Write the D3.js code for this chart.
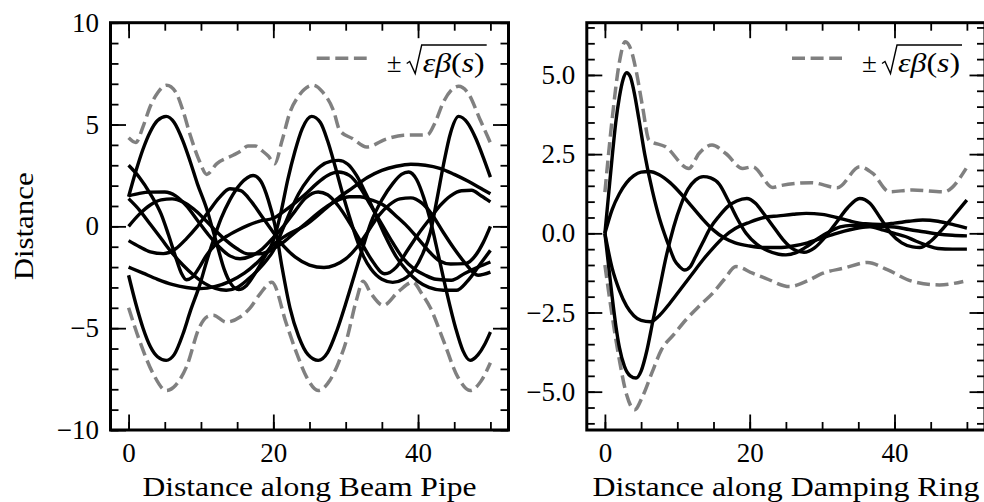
<!DOCTYPE html>
<html>
<head>
<meta charset="utf-8">
<script src="https://cdn.jsdelivr.net/npm/d3@7"></script>
<style>
  body { margin: 0; background: #fff; }
  svg { display: block; font-family: "Liberation Serif", "Times New Roman", serif; }
</style>
</head>
<body>
<script>
// ============================================
// DATA
// ============================================

// tick labels
const xMajor = [0, 20, 40];
const xMinor = [0, 5, 10, 15, 20, 25, 30, 35, 40, 45, 50];
const beamYMajor = [-10, -5, 0, 5, 10];
const ringYMajor = [-5, -2.5, 0, 2.5, 5];

// --- Beam pipe: envelope (upper / lower dashed) ---
const beamUpper = [[0,4.35],[1,4.12],[2,4.9],[3,5.9],[4,6.55],[5.25,6.93],[6.5,6.6],[7.5,5.7],[8.5,4.5],[9.8,3.2],[10.8,2.55],[12.2,3.08],[14.5,3.5],[15.5,3.7],[16.5,3.95],[17.5,3.95],[18.5,3.7],[19.3,3.45],[20.2,3.08],[21.2,4.2],[22.3,5.6],[23.5,6.4],[25.5,6.93],[26.8,6.6],[28.3,5.7],[29.2,4.7],[31,4.3],[32.9,3.9],[35.7,4.3],[38,4.47],[41.3,4.5],[42.3,5.05],[43.5,6.1],[45.6,6.88],[47,6.5],[48.5,5.3],[50,4.1]];
const beamLower = [[0,-4.0],[1.5,-5.6],[3.4,-7.24],[5.2,-8.06],[6.5,-7.8],[8,-6.9],[9.8,-4.95],[10.8,-4.45],[11.7,-4.37],[13.5,-4.7],[15.4,-4.45],[16.8,-4.0],[18.2,-3.3],[19.8,-2.74],[21.8,-4.78],[23.3,-6.3],[24.6,-7.4],[26.2,-8.06],[27.8,-7.57],[29,-6.7],[30.1,-5.6],[31.5,-3.6],[32.4,-2.7],[33.5,-3.3],[35.2,-3.88],[37.3,-3.2],[39.3,-2.74],[40.5,-3.3],[41.7,-4.0],[43.5,-5.6],[45.5,-7.4],[47.2,-8.06],[48.7,-7.6],[50,-6.7]];

// --- Beam pipe: particle trajectories ---
const beamP = [[0,1.45],[1,2.7],[2,3.8],[3,4.65],[4,5.2],[5.2,5.4],[6.3,5.1],[7.5,4.2],[8.5,3.2],[9.5,2.1],[10.8,0.85],[11.5,0],[12.3,-1],[13.2,-2.1],[14.2,-2.85],[15.2,-3.1],[16.3,-2.9],[17.5,-2.3],[18.8,-1.5],[20,-0.7],[21,0.6],[22,2.3],[23,3.7],[24,4.8],[25.3,5.4],[26.5,5.1],[27.5,4.2],[28.5,3],[29.5,1.7],[30.5,0.5],[31.5,-0.6],[32.5,-1.5],[33.5,-2.1],[35,-2.6],[36.5,-2.75],[38,-2.6],[39.5,-2.1],[40.7,-1.3],[41.7,-0.3],[42.6,1.3],[43.5,3],[44.5,4.6],[45.6,5.4],[46.8,5.1],[48,4.3],[49,3.4],[50,2.42]];
const beamN = [[0,-2.4],[1,-3.8],[2,-5],[3,-5.9],[4,-6.4],[5.2,-6.58],[6.3,-6.3],[7.5,-5.3],[8.5,-4.2],[9.9,-2.8],[10.8,-1.7],[11.7,-0.7],[12.8,0.4],[14,1.3],[15.5,2.1],[17.2,2.5],[18.3,2.2],[19.3,1.3],[20.2,0.1],[21.2,-2],[22.3,-4],[23.5,-5.4],[24.8,-6.3],[26.2,-6.58],[27.5,-6.2],[28.8,-5.1],[30,-3.8],[31.2,-2.4],[32.4,-1],[33.5,0.2],[35,1.3],[36.5,2.1],[37.7,2.55],[38.7,2.67],[39.8,2.3],[40.8,1.4],[41.7,0.3],[42.8,-1.4],[44,-3.3],[45.2,-5],[46.2,-6.1],[47.2,-6.58],[48.3,-6.3],[49.2,-5.8],[50,-5.19]];
const beamA = [[0,3],[1.5,2.4],[3,1.6],[4.5,0.6],[5.5,-0.4],[6.5,-1.5],[7.3,-2.3],[8,-2.62],[8.8,-2.5],[9.8,-2],[10.8,-1.4],[12,-0.9],[13.5,-0.5],[15,-0.2],[16.5,0.05],[18,0.25],[20,0.4],[21.5,0.75],[23,1.15],[24.5,1.6],[26,2.1],[27.5,2.5],[29,2.67],[30.5,2.5],[32,1.9],[33.5,1],[35,0.1],[36.5,-0.8],[38,-1.6],[39.5,-2.1],[41,-2.4],[42.5,-2.6],[44.6,-2.65],[46.5,-2.3],[48.3,-2],[50,-1.75]];
const beamG = [[0,1.36],[1.5,0.8],[3,0.1],[4.5,-0.6],[6,-1.3],[7.5,-1.9],[9,-2.4],[10.5,-2.8],[12,-3.05],[13.5,-3.14],[15,-3],[16.5,-2.6],[18,-2.1],[19.2,-1.6],[20,-1.2],[21,-0.4],[22.3,0.7],[23.5,1.6],[25,2.4],[26.5,2.95],[28,3.2],[29,3.24],[30.3,3.05],[31.5,2.5],[32.8,1.6],[34,0.7],[35.5,-0.5],[37,-1.5],[38.5,-2.2],[40,-2.7],[41.5,-3],[43.5,-3.14],[45.3,-3.14],[46.8,-2.7],[48.5,-1.9],[50,-1.18]];
const beamQ = [[0,1.5],[1.5,1.62],[3,1.68],[5,1.69],[6.5,1.5],[8,1],[9.5,0.3],[11,-0.4],[12.5,-1],[14,-1.45],[15.4,-1.59],[17,-1.45],[18.5,-1.1],[20,-0.55],[21.5,0.05],[23,0.75],[24.5,1.4],[26.2,1.69],[27.5,1.55],[29,1],[30.5,0.2],[32,-0.7],[33.5,-1.6],[35.4,-2.33],[37,-2],[38.5,-1.2],[40,-0.4],[41.7,0.4],[43,1],[44.5,1.5],[46,1.75],[47.4,1.77],[48.7,1.5],[50,1.2]];
const beamD = [[0,0],[1.5,0.6],[3,1.05],[4.5,1.3],[6,1.35],[7.5,1.2],[9,0.85],[10.5,0.35],[12,-0.2],[13.5,-0.7],[15,-1.1],[16.5,-1.35],[18,-1.35],[19.2,-1.25],[20,-1.1],[21.5,-0.75],[23,-0.3],[24.5,0.15],[26,0.6],[27.5,1],[29,1.3],[30.5,1.45],[32,1.45],[33.5,1.3],[35.4,1],[37,0.5],[38.5,0],[40,-0.6],[41.7,-1.3],[43,-1.7],[44.5,-1.85],[46.5,-1.83],[48,-1.4],[49,-0.8],[50,0]];
const beamE = [[0,-0.7],[1.5,-1],[3,-1.25],[4.8,-1.34],[6.5,-1.1],[8,-0.6],[9.5,0],[11,0.7],[12.5,1.4],[14,1.85],[15.5,1.75],[17,1.2],[18.5,0.45],[20,-0.3],[21.5,-1],[23,-1.5],[25,-1.9],[27,-2.02],[28.5,-1.9],[30,-1.6],[31.5,-1.05],[33,-0.3],[34.5,0.5],[36,1.05],[37.5,1.35],[39,1.4],[40.5,1.15],[42,0.55],[43.5,-0.3],[45,-1.1],[46.5,-1.8],[48.3,-2.4],[50,-2.25]];
const beamF = [[0,-2],[2,-2.3],[4,-2.6],[6,-2.85],[8,-3],[9.9,-3.06],[12,-2.95],[14,-2.7],[16,-2.3],[18,-1.7],[20,-0.9],[22,-0.4],[24.4,0.05],[27,0.8],[29,1.4],[31,1.9],[33,2.4],[35,2.75],[37,2.95],[39,3.05],[41,3],[43,2.85],[45,2.55],[47,2.2],[49,1.8],[50,1.6]];

// --- Damping ring: envelope ---
const ringUpper = [[0,1.3],[1,3.6],[2,5.4],[2.8,6.05],[3.6,5.8],[4.3,5.15],[5.2,4],[6.1,2.94],[8.4,2.73],[11.6,2.05],[13,2.52],[14.8,2.79],[16.7,2.52],[19,2.05],[20.4,2.1],[23.2,1.45],[24.1,1.5],[28.5,1.6],[32.1,1.44],[35.2,2.1],[37,1.89],[39.3,1.31],[42.5,1.37],[46.8,1.31],[49.9,2.05]];
const ringLower = [[0,-1],[1,-2.6],[2,-4],[3,-5.1],[4.1,-5.57],[5.2,-5.15],[6.5,-4.4],[7.8,-3.68],[9.5,-3.2],[11.2,-2.73],[13,-2.3],[14.9,-1.89],[16.5,-1.45],[18.1,-1.05],[20.4,-1.26],[22.2,-1.42],[25.5,-1.68],[28,-1.5],[30.1,-1.26],[33,-1.1],[36.3,-0.92],[39,-1.15],[42.5,-1.52],[46.2,-1.63],[49.5,-1.52]];

// --- Damping ring: particle trajectories ---
const ringR1 = [[0,0],[0.5,1.2],[1,2.4],[1.5,3.5],[2,4.3],[2.5,4.85],[3,5.07],[3.5,4.95],[4,4.5],[4.7,3.6],[5.5,2.5],[6.6,1.3],[7.5,0.5],[8.2,0],[9,-0.5],[9.6,-0.84],[10.3,-1.05],[11,-1.16],[11.8,-1.05],[12.5,-0.75],[13.5,-0.3],[14.5,0.15],[15.8,0.55],[17,0.85],[18.2,1.02],[19.6,1.1],[20.8,0.95],[22,0.6],[23.3,0.2],[24.6,-0.2],[26,-0.5],[27.5,-0.6],[29,-0.45],[30.5,-0.1],[32,0.35],[33.5,0.8],[35.2,1.1],[36.6,0.95],[38,0.5],[39.5,0.0],[41,-0.3],[42.5,-0.43],[43.5,-0.45],[45,-0.25],[46.5,0.1],[48,0.5],[50,1.05]];
const ringR2 = [[0,0],[0.5,-1],[1,-2],[1.5,-2.9],[2,-3.6],[2.7,-4.2],[3.5,-4.5],[4.3,-4.57],[5,-4.35],[5.8,-3.7],[6.6,-2.8],[7.5,-1.8],[8.5,-0.7],[9.5,0.2],[10.5,0.9],[11.5,1.4],[12.5,1.68],[13.6,1.79],[14.6,1.75],[15.8,1.55],[17,1.05],[18.2,0.5],[19.5,0],[21,-0.35],[22.5,-0.55],[24,-0.66],[25,-0.68],[26.5,-0.6],[28,-0.4],[29.5,-0.15],[31,0.05],[32.5,0.2],[34,0.25],[35.5,0.25],[37,0.2],[38.5,0.1],[40,0],[41.5,-0.1],[43,-0.25],[44.5,-0.38],[46,-0.48],[48,-0.5],[50,-0.5]];
const ringR3 = [[0,0],[1,0.75],[2,1.25],[3,1.6],[4,1.82],[5,1.93],[6.1,1.95],[7.5,1.85],[9,1.6],[10.5,1.25],[12,0.85],[13.5,0.45],[15,0.1],[16.5,-0.15],[18,-0.3],[20,-0.4],[22,-0.45],[24,-0.45],[26,-0.4],[28,-0.3],[30,-0.15],[32,0],[34,0.12],[36,0.2],[38,0.22],[40,0.2],[42,0.12],[44,0.05],[46,-0.02],[48,-0.06],[50,-0.08]];
const ringR4 = [[0,0],[1,-1.1],[2,-1.8],[3,-2.3],[4,-2.6],[5,-2.75],[6.3,-2.79],[7.5,-2.6],[9,-2.2],[10.5,-1.75],[12,-1.3],[13.5,-0.85],[15,-0.45],[16.5,-0.1],[18,0.15],[20,0.35],[22,0.5],[24,0.55],[26,0.6],[27.8,0.63],[30,0.6],[32,0.5],[34,0.38],[36,0.3],[38,0.28],[40,0.32],[42,0.38],[43.9,0.42],[46,0.38],[48,0.28],[50,0.16]];

// ============================================
// CHART CODE
// ============================================

const W = 984, H = 502;
const plotTop = 22.7, plotBottom = 430;
const fontSize = 27;

const svg = d3.select("body").append("svg")
  .attr("width", W)
  .attr("height", H);

svg.append("rect").attr("width", W).attr("height", H).attr("fill", "#fff");

const minus = s => String(s).replace("-", "\u2212");

function drawPanel(p) {
  const x = d3.scaleLinear().domain([-2.5, 52.5]).range([p.left, p.right]);
  const y = d3.scaleLinear().domain(p.yDomain).range([plotBottom, plotTop]);
  const g = svg.append("g");

  const line = d3.line()
    .x(d => x(d[0]))
    .y(d => y(d[1]))
    .curve(d3.curveMonotoneX);

  // envelope
  [p.upper, p.lower].forEach(d => {
    g.append("path")
      .attr("d", line(d))
      .attr("fill", "none")
      .attr("stroke", "#808080")
      .attr("stroke-width", 3.5)
      .attr("stroke-dasharray", "13,5.6");
  });

  // trajectories
  p.curves.forEach(d => {
    g.append("path")
      .attr("d", line(d))
      .attr("fill", "none")
      .attr("stroke", "#000")
      .attr("stroke-width", 3.4)
      .attr("stroke-linejoin", "round");
  });

  // ticks (inward, all four sides)
  const tickStyle = sel => {
    sel.select(".domain").remove();
    sel.selectAll(".tick line").attr("stroke", "#000").attr("stroke-width", 1.8);
    sel.selectAll(".tick text")
      .attr("fill", "#000")
      .attr("font-size", fontSize)
      .attr("font-family", "Liberation Serif, serif");
  };

  g.append("g").attr("transform", `translate(0,${plotBottom})`)
    .call(d3.axisBottom(x).tickValues(xMajor).tickSizeInner(-15.5).tickSizeOuter(0).tickPadding(12.5))
    .call(tickStyle);
  g.append("g").attr("transform", `translate(0,${plotBottom})`)
    .call(d3.axisBottom(x).tickValues(xMinor).tickSizeInner(-8).tickSizeOuter(0).tickFormat(""))
    .call(tickStyle);
  g.append("g").attr("transform", `translate(0,${plotTop})`)
    .call(d3.axisTop(x).tickValues(xMajor).tickSizeInner(-15.5).tickSizeOuter(0).tickFormat(""))
    .call(tickStyle);
  g.append("g").attr("transform", `translate(0,${plotTop})`)
    .call(d3.axisTop(x).tickValues(xMinor).tickSizeInner(-8).tickSizeOuter(0).tickFormat(""))
    .call(tickStyle);

  g.append("g").attr("transform", `translate(${p.left},0)`)
    .call(d3.axisLeft(y).tickValues(p.yMajor).tickSizeInner(-15.5).tickSizeOuter(0).tickPadding(11.5).tickFormat(d => minus(p.fmt(d))))
    .call(tickStyle);
  g.append("g").attr("transform", `translate(${p.left},0)`)
    .call(d3.axisLeft(y).tickValues(p.yMinor).tickSizeInner(-8).tickSizeOuter(0).tickFormat(""))
    .call(tickStyle);
  g.append("g").attr("transform", `translate(${p.right},0)`)
    .call(d3.axisRight(y).tickValues(p.yMajor).tickSizeInner(-15.5).tickSizeOuter(0).tickFormat(""))
    .call(tickStyle);
  g.append("g").attr("transform", `translate(${p.right},0)`)
    .call(d3.axisRight(y).tickValues(p.yMinor).tickSizeInner(-8).tickSizeOuter(0).tickFormat(""))
    .call(tickStyle);

  // frame
  g.append("rect")
    .attr("x", p.left).attr("y", plotTop)
    .attr("width", p.right - p.left).attr("height", plotBottom - plotTop)
    .attr("fill", "none").attr("stroke", "#000").attr("stroke-width", 3);

  // x label
  g.append("text")
    .attr("x", (p.left + p.right) / 2)
    .attr("y", 496)
    .attr("text-anchor", "middle")
    .attr("font-size", fontSize)
    .attr("textLength", p.xLabelWidth)
    .attr("lengthAdjust", "spacingAndGlyphs")
    .text(p.xLabel);

  // legend
  const lx = p.legendX, ly = 58.3, tb = 71.5;
  g.append("line")
    .attr("x1", lx - 70).attr("x2", lx - 20)
    .attr("y1", ly).attr("y2", ly)
    .attr("stroke", "#808080").attr("stroke-width", 3.5)
    .attr("stroke-dasharray", "13,5.6");
  g.append("text")
    .attr("x", lx).attr("y", tb)
    .attr("font-size", fontSize)
    .text("\u00b1");
  g.append("path")
    .attr("d", `M${lx + 20},${tb - 8} L${lx + 23},${tb - 10} L${lx + 28.5},${tb + 2} L${lx + 35},${tb - 26.5} L${lx + 100},${tb - 26.5}`)
    .attr("fill", "none").attr("stroke", "#000").attr("stroke-width", 1.4)
    .attr("stroke-linejoin", "miter");
  const t = g.append("text")
    .attr("x", lx + 36).attr("y", tb)
    .attr("font-size", fontSize)
    .attr("textLength", 62)
    .attr("lengthAdjust", "spacingAndGlyphs");
  t.append("tspan").attr("font-style", "italic").text("\u03b5\u03b2");
  t.append("tspan").text("(");
  t.append("tspan").attr("font-style", "italic").text("s");
  t.append("tspan").text(")");
}

drawPanel({
  left: 110.5, right: 508.5,
  legendX: 386.7,
  yDomain: [-10, 10],
  yMajor: beamYMajor,
  yMinor: d3.range(-10, 10.01, 1),
  fmt: d => d3.format("d")(d),
  upper: beamUpper, lower: beamLower,
  curves: [beamF, beamD, beamE, beamQ, beamG, beamA, beamN, beamP],
  xLabel: "Distance along Beam Pipe",
  xLabelWidth: 334
});

drawPanel({
  left: 586.8, right: 985,
  legendX: 862,
  yDomain: [-6.21, 6.65],
  yMajor: ringYMajor,
  yMinor: d3.range(-6, 6.6, 0.5),
  fmt: d => d3.format(".1f")(d),
  upper: ringUpper, lower: ringLower,
  curves: [ringR3, ringR4, ringR2, ringR1],
  xLabel: "Distance along Damping Ring",
  xLabelWidth: 387
});

// y label (left panel only)
svg.append("text")
  .attr("transform", `translate(33,${(plotTop + plotBottom) / 2}) rotate(-90)`)
  .attr("text-anchor", "middle")
  .attr("font-size", fontSize)
  .attr("textLength", 108)
  .attr("lengthAdjust", "spacingAndGlyphs")
  .text("Distance");
</script>
</body>
</html>
